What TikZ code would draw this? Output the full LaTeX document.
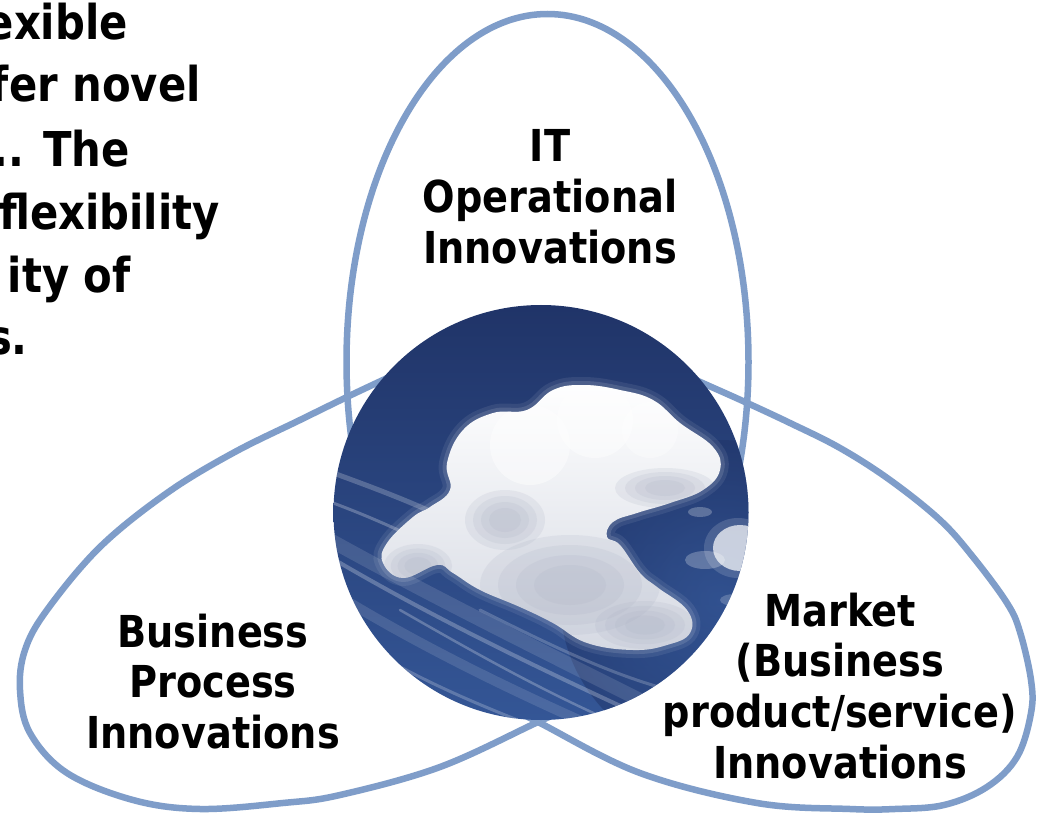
\documentclass[tikz,border=0pt]{standalone}
\usepackage{fontspec}
\newfontfamily\labelfont{DejaVu Sans}[FakeStretch=0.87]
\definecolor{ringc}{RGB}{127,157,201}
\definecolor{skytop}{RGB}{32,52,104}
\definecolor{skybot}{RGB}{52,86,150}
\definecolor{cloudsh}{RGB}{172,178,196}
\definecolor{cloudlow}{RGB}{212,216,226}
\begin{document}
\begin{tikzpicture}[x=1pt,y=-1pt,
  ring/.style={draw=ringc, line width=6.5pt},
  lab/.style={font=\labelfont\bfseries\fontsize{44pt}{50pt}\selectfont, anchor=base, inner sep=0pt, text=black},
  sidetext/.style={font=\labelfont\bfseries\fontsize{48pt}{63pt}\selectfont, anchor=base east, inner sep=0pt, text=black},
  streak/.style={draw=white, line cap=round},
  shadowblob/.style={fill=cloudsh, opacity=0.18}]
\useasboundingbox (0,0) rectangle (1037,813);
\clip (0,0) rectangle (1037,813);
\fill[white] (0,0) rectangle (1037,813);

% cropped paragraph on the left
\node[sidetext] (p1) at (128,40) {exible};
\node[sidetext] (p2) at (201,102) {fer novel};
\node[sidetext] (p3) at (130,167) {.. The};
\node[sidetext] (p4) at (220,230) {flexibility};
\node[sidetext] (p5) at (131,293) {ity of};
\node[sidetext] (p6) at (28,355) {s.};

% three overlapping shapes
\draw[ring] (547.5,362) ellipse [x radius=201pt, y radius=348pt];
\draw[ring] plot[smooth, tension=0.6] coordinates {(430,358) (383,380) (347,397) (300,420) (233,453) (167,493) (100,547) (47,610) (25,650) (20,690) (30,733) (67,773) (133,800) (200,809) (283,803) (340,795) (440,767) (538,722) (590,698)};
\draw[ring] plot[smooth, tension=0.6] coordinates {(669,368) (707,385) (745,402) (790,423) (840,448) (890,480) (940,520) (973,557) (1007,603) (1020,632) (1031,680) (1031,713) (1017,757) (987,787) (944,805) (895,809) (850,809) (757,803) (640,773) (538,722) (490,698)};

% central sky picture
\begin{scope}
\clip (541,512.5) circle [radius=207.5pt];
\shade[top color=skytop, bottom color=skybot] (333,305) rectangle (749,720);
\shade[inner color=skybot, outer color=skytop, opacity=0.5] (720,600) circle [radius=160pt];
% cirrus streaks
\draw[streak, line width=5pt, opacity=0.22] (325,470) .. controls (380,490) and (420,505) .. (470,530);
\draw[streak, line width=3pt, opacity=0.25] (325,500) .. controls (380,520) and (420,540) .. (460,560);
\draw[streak, line width=14pt, opacity=0.12] (330,540) .. controls (420,590) and (520,640) .. (650,705);
\draw[streak, line width=4pt, opacity=0.25] (335,560) .. controls (420,610) and (520,660) .. (640,715);
\draw[streak, line width=10pt, opacity=0.12] (345,600) .. controls (420,645) and (500,685) .. (590,725);
\draw[streak, line width=3pt, opacity=0.22] (370,650) .. controls (430,685) and (480,705) .. (530,725);
\draw[streak, line width=3pt, opacity=0.2] (480,610) .. controls (560,650) and (640,690) .. (720,700);
\draw[streak, line width=2.5pt, opacity=0.25] (400,610) .. controls (470,650) and (540,690) .. (620,725);
% cloud: soft edge
\draw[white, opacity=0.08, line width=16pt] plot[smooth cycle, tension=0.7] coordinates {(463,430) (493,413) (527,410) (553,390) (583,385) (620,390) (653,400) (680,423) (713,447) (720,470) (703,490) (670,503) (637,513) (613,522) (607,537) (620,545) (640,573) (657,587) (687,610) (690,633) (667,645) (633,650) (587,643) (553,623) (520,607) (480,590) (453,573) (437,565) (403,578) (383,563) (387,543) (413,517) (430,507) (450,490) (447,463)};
\draw[white, opacity=0.12, line width=8pt] plot[smooth cycle, tension=0.7] coordinates {(463,430) (493,413) (527,410) (553,390) (583,385) (620,390) (653,400) (680,423) (713,447) (720,470) (703,490) (670,503) (637,513) (613,522) (607,537) (620,545) (640,573) (657,587) (687,610) (690,633) (667,645) (633,650) (587,643) (553,623) (520,607) (480,590) (453,573) (437,565) (403,578) (383,563) (387,543) (413,517) (430,507) (450,490) (447,463)};
% cloud body with soft shadows
\begin{scope}
\clip plot[smooth cycle, tension=0.7] coordinates {(463,430) (493,413) (527,410) (553,390) (583,385) (620,390) (653,400) (680,423) (713,447) (720,470) (703,490) (670,503) (637,513) (613,522) (607,537) (620,545) (640,573) (657,587) (687,610) (690,633) (667,645) (633,650) (587,643) (553,623) (520,607) (480,590) (453,573) (437,565) (403,578) (383,563) (387,543) (413,517) (430,507) (450,490) (447,463)};
\shade[top color=white, bottom color=cloudlow] (370,380) rectangle (730,660);
\foreach \r in {1,0.8,0.6,0.4} {
  \fill[shadowblob] (570,585) ellipse [x radius=\r*90pt, y radius=\r*50pt];
  \fill[shadowblob] (645,625) ellipse [x radius=\r*50pt, y radius=\r*24pt];
  \fill[shadowblob] (418,566) ellipse [x radius=\r*34pt, y radius=\r*22pt];
  \fill[shadowblob] (665,488) ellipse [x radius=\r*50pt, y radius=\r*20pt];
  \fill[shadowblob] (505,520) ellipse [x radius=\r*40pt, y radius=\r*30pt];
}
\fill[white, opacity=0.45] (530,445) circle [radius=40pt];
\fill[white, opacity=0.45] (595,420) circle [radius=38pt];
\fill[white, opacity=0.35] (650,430) circle [radius=28pt];
\end{scope}
% small cloud at the right edge and wisps
\fill[white, opacity=0.15] (738,548) ellipse [x radius=34pt, y radius=30pt];
\fill[white, opacity=0.7] (740,548) ellipse [x radius=27pt, y radius=23pt];
\fill[white, opacity=0.25] (705,560) ellipse [x radius=20pt, y radius=9pt];
\fill[white, opacity=0.25] (700,512) ellipse [x radius=12pt, y radius=5pt];
\fill[white, opacity=0.2] (735,600) ellipse [x radius=15pt, y radius=6pt];
\end{scope}

% labels
\node[lab] (it1) at (550,162) {IT};
\node[lab] (it2) at (550,213) {Operational};
\node[lab] (it3) at (550,264) {Innovations};
\node[lab] (bp1) at (213,647) {Business};
\node[lab] (bp2) at (213,697) {Process};
\node[lab] (bp3) at (213,748) {Innovations};
\node[lab] (mk1) at (840,626) {Market};
\node[lab] (mk2) at (840,676) {(Business};
\node[lab] (mk3) at (840,727) {product/service)};
\node[lab] (mk4) at (840,778) {Innovations};
\end{tikzpicture}
\end{document}
